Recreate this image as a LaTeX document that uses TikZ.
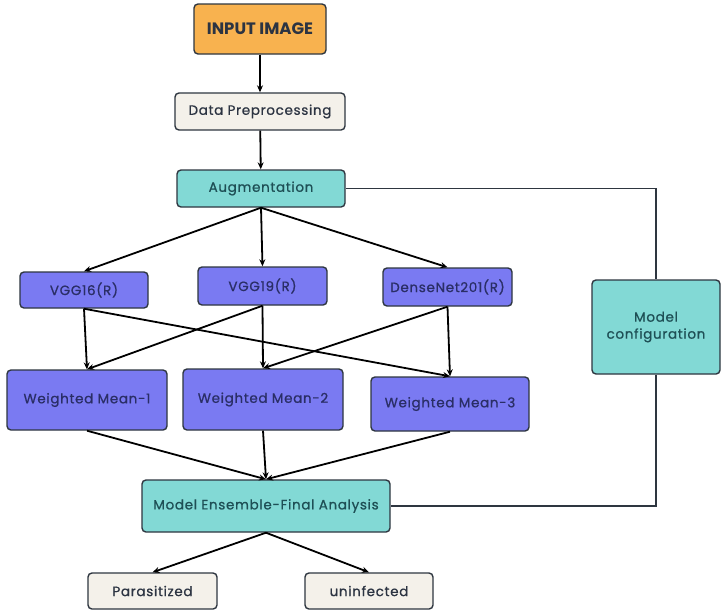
\documentclass[tikz,border=0pt]{standalone}
\usepackage{fontspec}
\setmainfont{Poppins}
\newfontfamily\medfont{Poppins}[FakeBold=0.8,LetterSpace=5]
\usetikzlibrary{arrows.meta}
\definecolor{orangebox}{HTML}{F8B24F}
\definecolor{beigebox}{HTML}{F4F1EA}
\definecolor{tealbox}{HTML}{82D9D5}
\definecolor{bluebox}{HTML}{7A7AF2}
\definecolor{edgecol}{HTML}{2E3640}
\definecolor{txtdark}{HTML}{2C3442}
\definecolor{txtblue}{HTML}{2A2E66}
\definecolor{txtteal}{HTML}{1E4F55}
\tikzset{
  box/.style={draw=edgecol, line width=1.4pt, rounded corners=4pt, align=center, inner sep=0pt, font=\medfont\fontsize{13.5}{17}\selectfont},
  obox/.style={box, fill=orangebox, text=txtdark, font=\fontsize{16.5}{18}\selectfont\bfseries},
  bbox/.style={box, fill=beigebox, text=txtdark},
  tbox/.style={box, fill=tealbox, text=txtteal},
  pbox/.style={box, fill=bluebox, text=txtblue},
  arr/.style={-{Stealth[length=7pt,width=6pt]}, line width=1.8pt, black},
  side/.style={line width=1.2pt, edgecol}
}
\begin{document}
\begin{tikzpicture}[x=1pt,y=1pt]
\useasboundingbox (0,0) rectangle (725,-614);
\fill[white] (0,0) rectangle (725,-614);
\node[obox, minimum width=132pt, minimum height=50pt] (inp) at (260,-29) {INPUT IMAGE};
\node[bbox, minimum width=170pt, minimum height=37pt] (pre) at (260,-111.5) {Data Preprocessing};
\node[tbox, minimum width=168pt, minimum height=37pt] (aug) at (261,-188.5) {Augmentation};
\node[pbox, minimum width=128pt, minimum height=36pt] (v16) at (84,-290) {VGG16(R)};
\node[pbox, minimum width=129pt, minimum height=38pt] (v19) at (262.5,-286) {VGG19(R)};
\node[pbox, minimum width=129pt, minimum height=38pt] (dn) at (447.5,-287) {DenseNet201(R)};
\node[pbox, minimum width=160pt, minimum height=60pt] (wm1) at (87,-400) {Weighted Mean-1};
\node[pbox, minimum width=160pt, minimum height=61pt] (wm2) at (263,-399.5) {Weighted Mean-2};
\node[pbox, minimum width=158pt, minimum height=54pt] (wm3) at (450,-404) {Weighted Mean-3};
\node[tbox, minimum width=128pt, minimum height=94pt] (mc) at (656,-327) {Model\\configuration};
\node[tbox, minimum width=248pt, minimum height=52pt] (ens) at (266,-506) {Model Ensemble-Final Analysis};
\node[bbox, minimum width=129pt, minimum height=36pt] (par) at (152.5,-591) {Parasitized};
\node[bbox, minimum width=128pt, minimum height=36pt] (uni) at (369,-591) {uninfected};
\draw[arr] (inp) -- (pre);
\draw[arr] (pre) -- (aug);
\draw[arr] (aug.south) -- (v16.north);
\draw[arr] (aug.south) -- (v19.north);
\draw[arr] (aug.south) -- (dn.north);
\draw[arr] (v16.south) -- (wm1.north);
\draw[arr] (v16.south) -- (wm3.north);
\draw[arr] (v19.south) -- (wm1.north);
\draw[arr] (v19.south) -- (wm2.north);
\draw[arr] (dn.south) -- (wm2.north);
\draw[arr] (dn.south) -- (wm3.north);
\draw[arr] (wm1.south) -- (ens.north);
\draw[arr] (wm2.south) -- (ens.north);
\draw[arr] (wm3.south) -- (ens.north);
\draw[arr] (ens.south) -- (par.north);
\draw[arr] (ens.south) -- (uni.north);
\draw[side] (aug.east) -| (mc.north);
\draw[side] (mc.south) |- (ens.east);
\end{tikzpicture}
\end{document}
